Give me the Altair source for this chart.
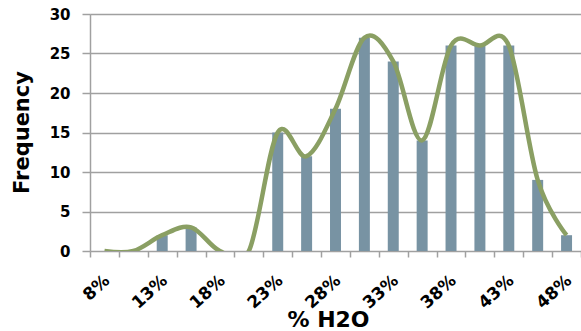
import altair as alt
import pandas as pd

categories = ["8%", "10.5%", "13%", "15.5%", "18%", "20.5%", "23%", "25.5%", "28%",
              "30.5%", "33%", "35.5%", "38%", "40.5%", "43%", "45.5%", "48%"]
frequency = [0, 0, 2, 3, 0, 0, 15, 12, 18, 27, 24, 14, 26, 26, 26, 9, 2]
shown_labels = ["8%", "13%", "18%", "23%", "28%", "33%", "38%", "43%", "48%"]
y_ticks = [0, 5, 10, 15, 20, 25, 30]

df = pd.DataFrame({"cat": categories, "freq": frequency})

FONT = "DejaVu Sans"
GRID = "#a0a0a0"


def x_axis():
    return alt.Axis(
        title="% H2O", titleFont=FONT, titleFontSize=22, titleFontWeight="bold",
        titleColor="black", titleX=238, titleY=75, titleBaseline="alphabetic",
        titleAlign="center", titleAnchor="start",
        labelExpr="indexof(" + str(shown_labels) + ", datum.value) >= 0 ? datum.value : ''",
        labelAngle=-42, labelAlign="right", labelBaseline="top",
        labelFont=FONT, labelFontSize=17, labelFontWeight="bold", labelColor="black",
        labelPadding=15, labelOffset=-3, labelOverlap=False,
        tickBand="extent", tickColor=GRID, tickSize=6, tickWidth=1.5,
        domain=False, grid=False,
    )


def y_axis():
    return alt.Axis(
        title="Frequency", titleFont=FONT, titleFontSize=21, titleFontWeight="bold",
        titleColor="black", titleAngle=-90, titleX=-68, titleY=118,
        titleBaseline="middle", titleAlign="center", titleAnchor="start",
        values=y_ticks, tickCount=7, labelOverlap=False,
        labelFont=FONT, labelFontSize=15, labelFontWeight="bold",
        labelColor="black", labelPadding=12,
        tickColor=GRID, tickSize=8, tickWidth=1.5,
        domainColor=GRID, domainWidth=1.5,
        grid=True, gridColor=GRID, gridWidth=1.5,
    )


x_scale = alt.Scale(paddingInner=0, paddingOuter=0)
y_scale = alt.Scale(domain=[0, 30], nice=False)

bars = alt.Chart(df).mark_bar(
    color="#7893a3", width=alt.RelativeBandSize(0.38)
).encode(
    x=alt.X("cat:N", sort=categories, scale=x_scale, axis=x_axis()),
    y=alt.Y("freq:Q", scale=y_scale, axis=y_axis()),
)

line = alt.Chart(df).mark_line(
    color="#8a9f63", strokeWidth=4.5, interpolate="cardinal", clip=True
).encode(
    x=alt.X("cat:N", sort=categories, scale=x_scale, axis=x_axis()),
    y=alt.Y("freq:Q", scale=y_scale, axis=y_axis()),
)

chart = alt.layer(bars, line).properties(
    width=491, height=237,
    autosize=alt.AutoSizeParams(type="none"),
    padding={"left": 90, "top": 14, "right": 0, "bottom": 80},
).configure_view(stroke=None).configure(background="white")

chart.save("out.html", embed_options={"renderer": "svg", "actions": False})
